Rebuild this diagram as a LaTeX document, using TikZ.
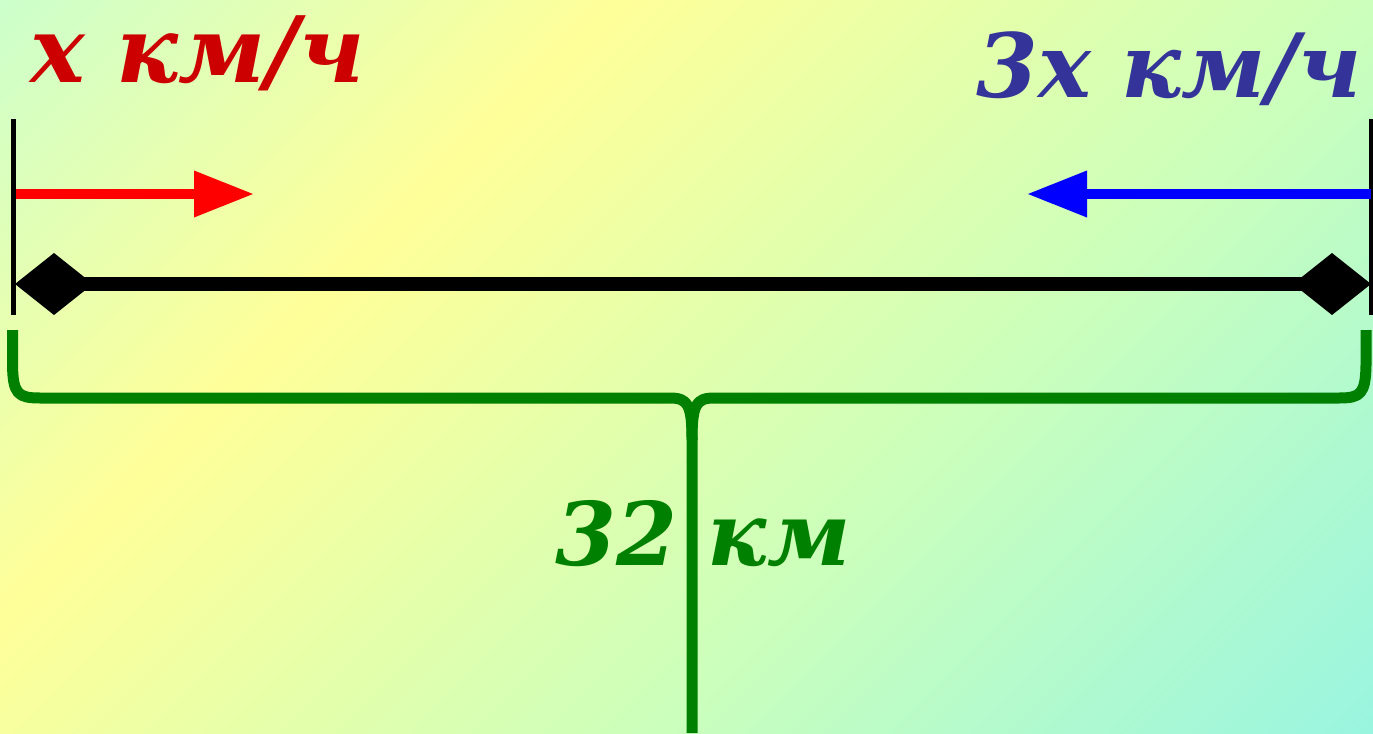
\documentclass[tikz,border=0pt]{standalone}
\usepackage{fontspec}
\setmainfont{DejaVu Serif}
\usetikzlibrary{arrows.meta}
\definecolor{bgA}{HTML}{CCFFCC}
\definecolor{bgB}{HTML}{FFFF99}
\definecolor{bgC}{HTML}{CCFFBB}
\definecolor{bgD}{HTML}{99F5E0}
\definecolor{redtxt}{HTML}{CC0000}
\definecolor{bluetxt}{HTML}{333399}
\definecolor{grn}{HTML}{008000}
\pgfdeclarehorizontalshading{bgshade}{2000bp}{color(0bp)=(bgA); color(438bp)=(bgB); color(969bp)=(bgC); color(1489bp)=(bgD); color(1530bp)=(bgD)}
\tikzset{
  lbl/.style={inner sep=0pt, outer sep=0pt},
  tick/.style={line width=5bp, black},
  speed/.style={line width=10bp, -{Triangle[length=60bp,width=44bp]}},
  road/.style={line width=14bp, black, {Diamond[length=78bp,width=62bp]}-{Diamond[length=78bp,width=62bp]}},
  brace/.style={line width=11bp, grn, line join=round}
}
\begin{document}
\begin{tikzpicture}[x=1bp,y=-1bp]
\useasboundingbox (0,0) rectangle (1373,733);
\begin{scope}
\clip (0,0) rectangle (1373,733);
\node[inner sep=0pt, outer sep=0pt, anchor=west, rotate=-45] (bg) at (0,0) {\pgfuseshading{bgshade}};
\end{scope}
% labels
\node[lbl, text=redtxt, font=\fontsize{92}{92}\selectfont\bfseries\itshape, anchor=base west] (vx) at (30,83) {x км/ч};
\node[lbl, text=bluetxt, font=\fontsize{89}{89}\selectfont\bfseries\itshape, anchor=base east] (v3x) at (1362,98) {3x км/ч};
\node[lbl, text=grn, font=\fontsize{88}{88}\selectfont\bfseries\itshape, anchor=base] (dist) at (703,565) {32 км};
% end ticks
\coordinate (ltop) at (13,119); \coordinate (lbot) at (13,315);
\coordinate (rtop) at (1371,119); \coordinate (rbot) at (1371,315);
\draw[tick] (ltop) -- (lbot);
\draw[tick] (rtop) -- (rbot);
% speed arrows
\coordinate (rs) at (16,194); \coordinate (re) at (254,194);
\coordinate (bs) at (1371,194); \coordinate (be) at (1027,194);
\draw[speed, red] (rs) -- (re);
\draw[speed, blue] (bs) -- (be);
% road
\coordinate (ra) at (15,284); \coordinate (rb) at (1371,284);
\draw[road] (ra) -- (rb);
% brace
\coordinate (bl) at (12.5,330); \coordinate (br) at (1366,330);
\coordinate (stem) at (692,733);
\draw[brace] (bl) -- (12.5,365) .. controls (13,394) and (18,398) .. (40,398)
  -- (670,398) .. controls (688,398) and (692,405) .. (692,440) -- (stem);
\draw[brace] (br) -- (1366,365) .. controls (1365.5,394) and (1360.5,398) .. (1339,398)
  -- (714,398) .. controls (696,398) and (692,405) .. (692,440);
\end{tikzpicture}
\end{document}
